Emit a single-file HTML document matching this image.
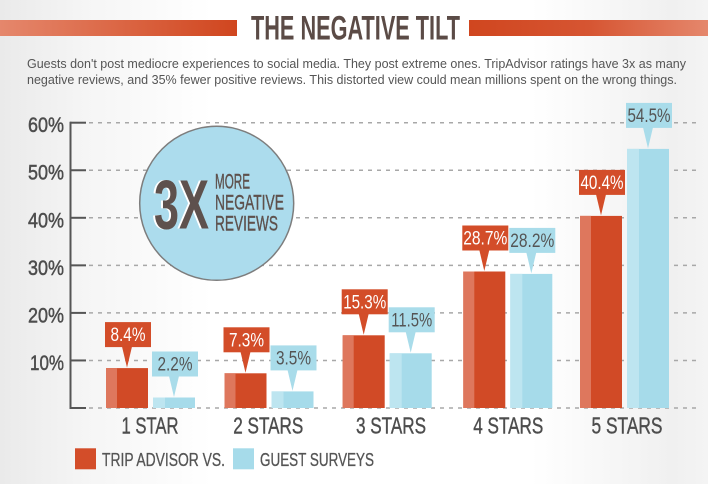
<!DOCTYPE html>
<html>
<head>
<meta charset="utf-8">
<style>
  html,body{margin:0;padding:0;width:708px;height:484px;overflow:hidden;background:#fff;}
  svg{display:block;}
  text{font-family:"Liberation Sans Narrow","Liberation Sans",sans-serif;}
</style>
</head>
<body>
<svg width="708" height="484" viewBox="0 0 708 484" xmlns="http://www.w3.org/2000/svg">
  <defs>
    <linearGradient id="bg" x1="0" y1="0" x2="1" y2="0">
      <stop offset="0" stop-color="#eaeaea"/>
      <stop offset="0.12" stop-color="#f5f5f5"/>
      <stop offset="0.3" stop-color="#ffffff"/>
      <stop offset="0.75" stop-color="#ffffff"/>
      <stop offset="0.95" stop-color="#f0f0f0"/>
      <stop offset="1" stop-color="#f4f4f4"/>
    </linearGradient>
    <linearGradient id="barL" x1="0" y1="0" x2="1" y2="0">
      <stop offset="0" stop-color="#e5876c"/>
      <stop offset="0.6" stop-color="#d9603d"/>
      <stop offset="1" stop-color="#d0461f"/>
    </linearGradient>
    <linearGradient id="barR" x1="0" y1="0" x2="1" y2="0">
      <stop offset="0" stop-color="#d0461f"/>
      <stop offset="0.5" stop-color="#d65532"/>
      <stop offset="1" stop-color="#e5876c"/>
    </linearGradient>
  </defs>

  <rect x="0" y="0" width="708" height="484" fill="url(#bg)"/>

  <!-- Title -->
  <rect x="0" y="20" width="237" height="16" fill="url(#barL)"/>
  <rect x="469" y="20" width="239" height="16" fill="url(#barR)"/>
  <text x="251" y="39.5" font-size="34" font-weight="bold" fill="#5b4b46" textLength="209" lengthAdjust="spacingAndGlyphs" style='font-family:"Liberation Sans",sans-serif'>THE NEGATIVE TILT</text>

  <!-- Subtitle -->
  <text x="27" y="68" font-size="13" fill="#555" textLength="659" lengthAdjust="spacingAndGlyphs" style='font-family:"Liberation Sans",sans-serif'>Guests don't post mediocre experiences to social media. They post extreme ones. TripAdvisor ratings have 3x as many</text>
  <text x="27" y="84" font-size="13" fill="#555" textLength="650" lengthAdjust="spacingAndGlyphs" style='font-family:"Liberation Sans",sans-serif'>negative reviews, and 35% fewer positive reviews. This distorted view could mean millions spent on the wrong things.</text>

  <!-- Gridlines -->
  <g stroke="#a8a8a8" stroke-width="1.5" stroke-dasharray="4 5">
    <line x1="89" y1="122.7" x2="697" y2="122.7"/>
    <line x1="89" y1="170.25" x2="697" y2="170.25"/>
    <line x1="89" y1="217.8" x2="697" y2="217.8"/>
    <line x1="89" y1="265.35" x2="697" y2="265.35"/>
    <line x1="89" y1="312.9" x2="697" y2="312.9"/>
    <line x1="89" y1="360.45" x2="697" y2="360.45"/>
    <line x1="89" y1="408" x2="697" y2="408"/>
  </g>

  <!-- Axis -->
  <g stroke="#555" stroke-width="2" fill="none">
    <line x1="70.5" y1="121.7" x2="70.5" y2="409"/>
    <line x1="70" y1="122.7" x2="86" y2="122.7"/>
    <line x1="70" y1="170.25" x2="86" y2="170.25"/>
    <line x1="70" y1="217.8" x2="86" y2="217.8"/>
    <line x1="70" y1="265.35" x2="86" y2="265.35"/>
    <line x1="70" y1="312.9" x2="86" y2="312.9"/>
    <line x1="70" y1="360.45" x2="86" y2="360.45"/>
    <line x1="70" y1="408" x2="86" y2="408"/>
  </g>
  <g font-size="21.5" fill="#4d4d4d" stroke="#4d4d4d" stroke-width="0.5" text-anchor="end">
    <text x="64" y="132.2" textLength="36" lengthAdjust="spacingAndGlyphs">60%</text>
    <text x="64" y="179.7" textLength="36" lengthAdjust="spacingAndGlyphs">50%</text>
    <text x="64" y="227.3" textLength="36" lengthAdjust="spacingAndGlyphs">40%</text>
    <text x="64" y="274.8" textLength="36" lengthAdjust="spacingAndGlyphs">30%</text>
    <text x="64" y="322.4" textLength="36" lengthAdjust="spacingAndGlyphs">20%</text>
    <text x="64" y="369.9" textLength="34" lengthAdjust="spacingAndGlyphs">10%</text>
  </g>

  <!-- Circle -->
  <circle cx="216.7" cy="203.3" r="77" fill="#acdced" stroke="#7d7d7d" stroke-width="1.5"/>
  <text x="152" y="228.3" font-size="70" font-weight="bold" fill="#ffffff" textLength="55" lengthAdjust="spacingAndGlyphs">3X</text>
  <text x="154" y="228.3" font-size="70" font-weight="bold" fill="#5e514d" textLength="55" lengthAdjust="spacingAndGlyphs">3X</text>
  <g font-size="21" fill="#5e514d" stroke="#5e514d" stroke-width="0.4">
    <text x="215" y="188.3" textLength="35" lengthAdjust="spacingAndGlyphs">MORE</text>
    <text x="215" y="209.3" textLength="69" lengthAdjust="spacingAndGlyphs">NEGATIVE</text>
    <text x="215" y="230.7" textLength="63" lengthAdjust="spacingAndGlyphs">REVIEWS</text>
  </g>

  <!-- Bars: red -->
  <g>
    <rect x="106" y="368.1" width="42" height="39.9" fill="#d14a26"/>
    <rect x="106" y="368.1" width="11" height="39.9" fill="#de775d"/>
    <rect x="224.5" y="373.3" width="42" height="34.7" fill="#d14a26"/>
    <rect x="224.5" y="373.3" width="11" height="34.7" fill="#de775d"/>
    <rect x="342.7" y="335.3" width="42" height="72.7" fill="#d14a26"/>
    <rect x="342.7" y="335.3" width="11" height="72.7" fill="#de775d"/>
    <rect x="463.3" y="271.5" width="42" height="136.5" fill="#d14a26"/>
    <rect x="463.3" y="271.5" width="11" height="136.5" fill="#de775d"/>
    <rect x="580" y="215.9" width="42" height="192.1" fill="#d14a26"/>
    <rect x="580" y="215.9" width="11" height="192.1" fill="#de775d"/>
  </g>
  <!-- Bars: blue -->
  <g>
    <rect x="153" y="397.5" width="42" height="10.5" fill="#a6dbea"/>
    <rect x="153" y="397.5" width="12" height="10.5" fill="#bde5f0"/>
    <rect x="271.5" y="391.4" width="42" height="16.6" fill="#a6dbea"/>
    <rect x="271.5" y="391.4" width="12" height="16.6" fill="#bde5f0"/>
    <rect x="389.7" y="353.3" width="42" height="54.7" fill="#a6dbea"/>
    <rect x="389.7" y="353.3" width="12" height="54.7" fill="#bde5f0"/>
    <rect x="510.3" y="273.9" width="42" height="134.1" fill="#a6dbea"/>
    <rect x="510.3" y="273.9" width="12" height="134.1" fill="#bde5f0"/>
    <rect x="627" y="148.9" width="42" height="259.1" fill="#a6dbea"/>
    <rect x="627" y="148.9" width="12" height="259.1" fill="#bde5f0"/>
  </g>

  <!-- Red callouts -->
  <g fill="#d34d29">
    <rect x="105" y="322.1" width="46" height="25"/>
    <polygon points="122,346.6 132,346.6 127,367.6"/>
    <rect x="223.5" y="327.3" width="46" height="25"/>
    <polygon points="240.5,351.8 250.5,351.8 245.5,372.8"/>
    <rect x="341.7" y="289.3" width="46" height="25"/>
    <polygon points="358.7,313.8 368.7,313.8 363.7,334.8"/>
    <rect x="462.3" y="225.5" width="46" height="25"/>
    <polygon points="479.3,250 489.3,250 484.3,271"/>
    <rect x="579" y="169.9" width="46" height="25"/>
    <polygon points="596,194.4 606,194.4 601,215.4"/>
  </g>
  <g fill="#ffffff" font-size="19" text-anchor="middle">
    <text x="128" y="341.1" textLength="35" lengthAdjust="spacingAndGlyphs">8.4%</text>
    <text x="246.5" y="346.3" textLength="35" lengthAdjust="spacingAndGlyphs">7.3%</text>
    <text x="364.7" y="308.3" textLength="43" lengthAdjust="spacingAndGlyphs">15.3%</text>
    <text x="485.3" y="244.5" textLength="44" lengthAdjust="spacingAndGlyphs">28.7%</text>
    <text x="602" y="188.9" textLength="43" lengthAdjust="spacingAndGlyphs">40.4%</text>
  </g>

  <!-- Blue callouts -->
  <g fill="#a9dcea">
    <rect x="152" y="351.5" width="46" height="25"/>
    <polygon points="169,376 179,376 174,397"/>
    <rect x="270.5" y="345.4" width="46" height="25"/>
    <polygon points="287.5,369.9 297.5,369.9 292.5,390.9"/>
    <rect x="388.7" y="307.3" width="46" height="25"/>
    <polygon points="405.7,331.8 415.7,331.8 410.7,352.8"/>
    <rect x="509.3" y="227.9" width="46" height="25"/>
    <polygon points="526.3,252.4 536.3,252.4 531.3,273.4"/>
    <rect x="626" y="102.9" width="46" height="25"/>
    <polygon points="643,127.4 653,127.4 648,148.4"/>
  </g>
  <g fill="#545454" font-size="19" text-anchor="middle">
    <text x="175" y="370.5" textLength="35" lengthAdjust="spacingAndGlyphs">2.2%</text>
    <text x="293.5" y="364.4" textLength="35" lengthAdjust="spacingAndGlyphs">3.5%</text>
    <text x="411.7" y="326.3" textLength="41" lengthAdjust="spacingAndGlyphs">11.5%</text>
    <text x="532.3" y="246.9" textLength="44" lengthAdjust="spacingAndGlyphs">28.2%</text>
    <text x="649" y="121.9" textLength="43" lengthAdjust="spacingAndGlyphs">54.5%</text>
  </g>

  <!-- X labels -->
  <g fill="#4d4d4d" stroke="#4d4d4d" stroke-width="0.4" font-size="23" text-anchor="middle">
    <text x="150" y="433.3" textLength="57" lengthAdjust="spacingAndGlyphs">1 STAR</text>
    <text x="268.3" y="433.3" textLength="70" lengthAdjust="spacingAndGlyphs">2 STARS</text>
    <text x="391" y="433.3" textLength="70" lengthAdjust="spacingAndGlyphs">3 STARS</text>
    <text x="508.3" y="433.3" textLength="70" lengthAdjust="spacingAndGlyphs">4 STARS</text>
    <text x="627" y="433.3" textLength="71" lengthAdjust="spacingAndGlyphs">5 STARS</text>
  </g>

  <!-- Legend -->
  <rect x="75" y="448.3" width="21" height="21" fill="#d34d29"/>
  <text x="102" y="466" font-size="18" fill="#555" stroke="#555" stroke-width="0.3" textLength="123" lengthAdjust="spacingAndGlyphs">TRIP ADVISOR VS.</text>
  <rect x="233" y="448.3" width="21" height="21" fill="#a6dbea"/>
  <text x="260" y="466" font-size="18" fill="#555" stroke="#555" stroke-width="0.3" textLength="114" lengthAdjust="spacingAndGlyphs">GUEST SURVEYS</text>
</svg>
</body>
</html>
